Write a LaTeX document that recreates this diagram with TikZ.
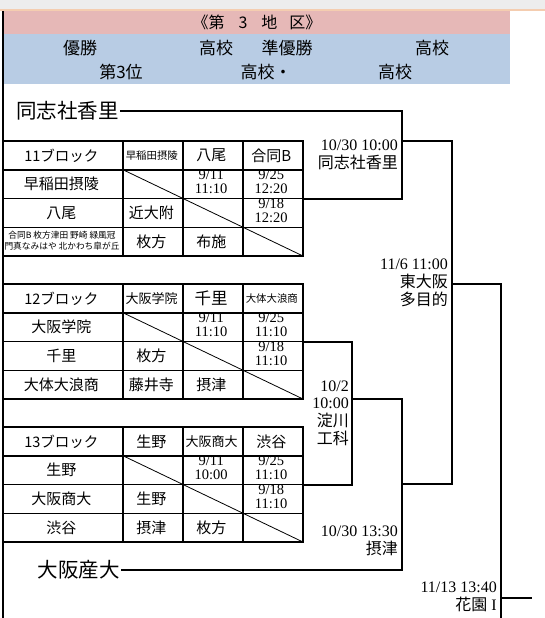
\documentclass[tikz,border=0pt]{standalone}
\usepackage{fontspec}
\setmainfont{Liberation Serif}
\newfontfamily\jp{Noto Sans CJK JP}
\usetikzlibrary{matrix,positioning}
\definecolor{cpink}{HTML}{E6B8B7}
\definecolor{cblue}{HTML}{B8CCE4}
\definecolor{cpeach}{HTML}{F4CDB0}
\definecolor{ctop}{HTML}{EDEDED}
% two stacked lines inside one table cell
\newcommand{\dt}[2]{\begin{tabular}{@{}c@{}}#1\\#2\end{tabular}}
% grid of one block table
\newcommand{\blockgrid}[1]{%
  \draw[gthick] (#1.north west) rectangle (#1.south east);
  \draw[gthick] (#1-2-1.north west) -- (#1-2-1.north west -| #1.east);
  \draw[gthin] (#1-3-1.north west) -- (#1-3-1.north west -| #1.east)
               (#1-4-1.north west) -- (#1-4-1.north west -| #1.east);
  \draw[gthick] (#1-1-2.north west) -- (#1-1-2.north west |- #1.south)
                (#1-1-3.north west) -- (#1-1-3.north west |- #1.south)
                (#1-1-4.north west) -- (#1-1-4.north west |- #1.south);
  \draw[gdiag] (#1-2-1.north east) -- (#1.south east);
}
\tikzset{
  tcell/.style={minimum width=60pt, minimum height=28.75pt, inner sep=0pt,
                outer sep=0pt, anchor=center, align=center,
                font=\jp\fontsize{15}{17}\selectfont},
  thead/.style={font=\jp\fontsize{14.5}{16}\selectfont},
  tbig/.style={font=\jp\fontsize{16.5}{18}\selectfont},
  tmid/.style={font=\jp\fontsize{13}{15}\selectfont},
  tsmall/.style={font=\jp\fontsize{10.4}{12}\selectfont},
  ttiny/.style={font=\jp\fontsize{8.7}{11}\selectfont},
  tdate/.style={font=\rmfamily\fontsize{14.5}{14}\selectfont},
  blockmat/.style={matrix of nodes, anchor=north west, inner sep=0pt,
                   outer sep=0pt, row sep=0pt, column sep=0pt, nodes={tcell},
                   column 1/.style={nodes={minimum width=120pt}}},
  team/.style={font=\jp\fontsize{20.5}{24}\selectfont, inner sep=1pt, anchor=east},
  mlab/.style={font=\fontsize{16}{18}\selectfont, align=right, inner sep=1pt,
               anchor=east},
  band/.style={font=\jp\fontsize{17}{20}\selectfont, inner sep=0pt},
  bline/.style={line width=2pt},
  gthick/.style={line width=1.8pt},
  gthin/.style={line width=1pt},
  gdiag/.style={line width=0.8pt},
}

\begin{document}
\begin{tikzpicture}[x=1pt, y=-1pt]
  \useasboundingbox (0,0) rectangle (545,618);
  % header bands
  \fill[ctop] (0,0) rectangle (545,9);
  \fill[cpeach] (0,9) rectangle (545,11);
  \fill[cpink] (3,11) rectangle (510,34);
  \fill[cblue] (3,34) rectangle (510,84);
  \draw[line width=2pt] (3,11) -- (3,618);
  \node[band, font=\jp\fontsize{16}{18}\selectfont] (title) at (257,22)
    {《第\hspace{14pt}3\hspace{14pt}地\hspace{12pt}区》};
  \node[band] (win) at (80,48) {優勝};
  \node[band] (winsch) at (216,48) {高校};
  \node[band] (runner) at (287,48) {準優勝};
  \node[band] (runsch) at (432,48) {高校};
  \node[band] (third) at (121,72) {第3位};
  \node[band] (thirdsch) at (266,72) {高校・};
  \node[band] (thirdschb) at (395,72) {高校};

  % block tables
  \matrix[blockmat] (b11) at (3,141) {
    |[thead]| 11ブロック & |[tsmall]| 早稲田摂陵 & 八尾 & 合同B \\
    早稲田摂陵 & & |[tdate]| \dt{9/11}{11:10} & |[tdate]| \dt{9/25}{12:20} \\
    八尾 & 近大附 & & |[tdate]| \dt{9/18}{12:20} \\
    |[ttiny]| \dt{合同B 枚方津田 野崎 緑風冠}{門真なみはや 北かわち皐が丘} & 枚方 & 布施 & \\
  };
  \blockgrid{b11}
  \matrix[blockmat] (b12) at (3,284) {
    |[thead]| 12ブロック & |[tmid]| 大阪学院 & |[tbig]| 千里 & |[tsmall]| 大体大浪商 \\
    大阪学院 & & |[tdate]| \dt{9/11}{11:10} & |[tdate]| \dt{9/25}{11:10} \\
    千里 & 枚方 & & |[tdate]| \dt{9/18}{11:10} \\
    大体大浪商 & 藤井寺 & 摂津 & \\
  };
  \blockgrid{b12}
  \matrix[blockmat] (b13) at (3,427) {
    |[thead]| 13ブロック & 生野 & |[tmid]| 大阪商大 & 渋谷 \\
    生野 & & |[tdate]| \dt{9/11}{10:00} & |[tdate]| \dt{9/25}{11:10} \\
    大阪商大 & 生野 & & |[tdate]| \dt{9/18}{11:10} \\
    渋谷 & 摂津 & 枚方 & \\
  };
  \blockgrid{b13}

  % seeded teams
  \node[team] (kaori) at (120,111) {同志社香里};
  \node[team] (sanda) at (121,570) {大阪産大};

  % bracket
  \coordinate (t11) at (b11-3-1.north west -| b11.east);
  \coordinate (t12) at (b12-3-1.north west -| b12.east);
  \coordinate (t13) at (b13-3-1.north west -| b13.east);
  \coordinate (q1) at (402,141);
  \coordinate (q2) at (352,399);
  \coordinate (q3) at (402,484);
  \coordinate (s1) at (452,284);
  \coordinate (f1) at (501,598);
  \coordinate (fend) at (501,619);
  \coordinate (fout) at (532,598);
  \draw[bline] (kaori.east) -| (q1) |- (t11);
  \draw[bline] (q1) -| (s1) |- (q3);
  \draw[bline] (t12) -| (q2) |- (t13);
  \draw[bline] (q2) -| (q3) |- (sanda.east);
  \draw[bline] (s1) -| (f1) -- (fend);
  \draw[bline] (f1) -- (fout);

  % match labels
  \node[mlab] (q1lab) at (399,155) {10/30 10:00\\{\jp 同志社香里}};
  \node[mlab] (s1lab) at (449,283) {11/6 11:00\\{\jp 東大阪}\\{\jp 多目的}};
  \node[mlab, font=\fontsize{16}{17.7}\selectfont] (q2lab) at (350,413)
    {10/2\\10:00\\{\jp 淀川}\\{\jp 工科}};
  \node[mlab] (q3lab) at (399,541) {10/30 13:30\\{\jp 摂津}};
  \node[mlab] (f1lab) at (498,597) {11/13 13:40\\{\jp 花園} I};
\end{tikzpicture}
\end{document}
